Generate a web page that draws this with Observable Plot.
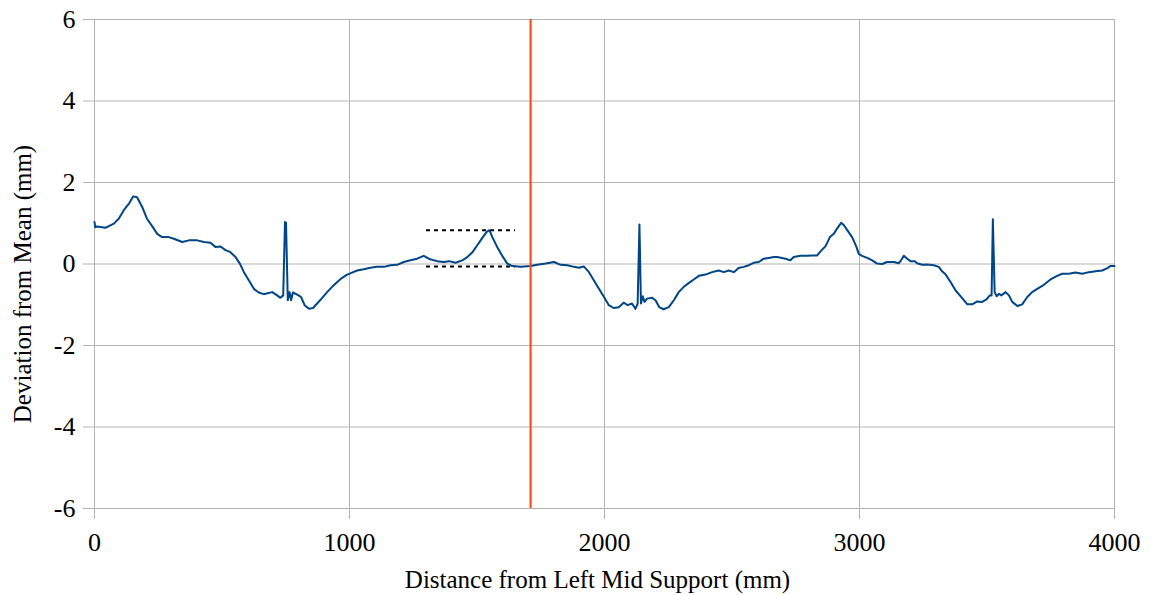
<!DOCTYPE html>
<html>
<head>
<meta charset="utf-8">
<script src="https://cdn.jsdelivr.net/npm/d3@7"></script>
<script src="https://cdn.jsdelivr.net/npm/@observablehq/plot@0.6"></script>
<style>
  body { margin: 0; background: #fff; }
  #chart svg text { font-family: 'Liberation Serif', 'DejaVu Serif', serif !important; }
</style>
</head>
<body>
<div id="chart"></div>
<script>
// Measured profile along the beam: distance (mm) and deviation from mean (mm)
const distance = [
  0, 3, 10, 43, 56, 76, 95, 115, 135, 152, 167, 187, 206, 226, 246, 265, 291, 311, 344, 370,
  403, 429, 455, 474, 494, 514, 533, 553, 570, 586, 605, 625, 644, 664, 671, 697, 716, 729, 740, 747,
  751, 758, 765, 771, 778, 795, 810, 824, 841, 857, 873, 893, 912, 932, 952, 971, 991, 1010, 1030, 1056,
  1082, 1108, 1135, 1161, 1187, 1213, 1239, 1265, 1291, 1311, 1331, 1344, 1370, 1390, 1416, 1442, 1462, 1481, 1501, 1521,
  1538, 1549, 1560, 1579, 1599, 1619, 1638, 1671, 1710, 1736, 1769, 1802, 1828, 1854, 1880, 1900, 1919, 1939, 1958, 1978,
  1998, 2017, 2036, 2056, 2075, 2091, 2108, 2121, 2130, 2137, 2143, 2150, 2157, 2167, 2187, 2200, 2215, 2232, 2252, 2272,
  2291, 2311, 2330, 2350, 2370, 2396, 2422, 2448, 2468, 2487, 2507, 2526, 2546, 2566, 2585, 2605, 2624, 2644, 2664, 2677,
  2710, 2729, 2742, 2769, 2795, 2814, 2834, 2847, 2867, 2884, 2899, 2912, 2928, 2939, 2952, 2971, 2988, 2997, 3010, 3030,
  3050, 3069, 3089, 3108, 3135, 3154, 3163, 3174, 3187, 3200, 3216, 3226, 3246, 3265, 3291, 3311, 3324, 3338, 3357, 3377,
  3396, 3423, 3442, 3462, 3481, 3498, 3511, 3518, 3523, 3530, 3538, 3547, 3556, 3573, 3586, 3599, 3619, 3638, 3658, 3677,
  3697, 3723, 3749, 3775, 3795, 3821, 3847, 3873, 3900, 3926, 3952, 3972, 3984, 4000
];
const deviation = [
  1.03, 0.90, 0.92, 0.89, 0.93, 0.99, 1.11, 1.32, 1.48, 1.66, 1.64, 1.40, 1.11, 0.93, 0.74, 0.66, 0.66, 0.62, 0.54, 0.58,
  0.58, 0.54, 0.52, 0.42, 0.43, 0.34, 0.29, 0.17, 0.01, -0.20, -0.40, -0.61, -0.70, -0.74, -0.73, -0.69, -0.77, -0.83, -0.77, 1.03,
  1.01, -0.89, -0.69, -0.89, -0.70, -0.75, -0.81, -1.01, -1.10, -1.08, -0.97, -0.83, -0.69, -0.56, -0.44, -0.34, -0.26, -0.21, -0.16, -0.13,
  -0.09, -0.07, -0.07, -0.03, -0.02, 0.05, 0.09, 0.13, 0.20, 0.13, 0.09, 0.07, 0.05, 0.07, 0.03, 0.09, 0.17, 0.28, 0.46, 0.64,
  0.79, 0.83, 0.66, 0.42, 0.20, 0.01, -0.05, -0.07, -0.05, -0.02, 0.01, 0.05, -0.02, -0.03, -0.07, -0.09, -0.06, -0.20, -0.40, -0.61,
  -0.81, -1.01, -1.08, -1.06, -0.95, -1.01, -0.97, -1.10, -0.97, 0.97, -0.97, -0.79, -0.93, -0.85, -0.83, -0.89, -1.06, -1.11, -1.06, -0.89,
  -0.69, -0.56, -0.47, -0.38, -0.29, -0.26, -0.20, -0.16, -0.20, -0.16, -0.20, -0.10, -0.07, -0.03, 0.03, 0.05, 0.13, 0.15, 0.17, 0.17,
  0.13, 0.09, 0.17, 0.20, 0.20, 0.21, 0.21, 0.31, 0.44, 0.66, 0.74, 0.87, 1.01, 0.95, 0.83, 0.66, 0.42, 0.25, 0.20, 0.15,
  0.09, 0.01, 0.00, 0.05, 0.05, 0.02, 0.09, 0.20, 0.13, 0.07, 0.07, 0.02, -0.02, -0.01, -0.03, -0.07, -0.18, -0.26, -0.44, -0.65,
  -0.79, -0.99, -0.99, -0.92, -0.93, -0.87, -0.77, -0.77, 1.10, -0.69, -0.79, -0.73, -0.77, -0.69, -0.77, -0.93, -1.03, -0.99, -0.81, -0.69,
  -0.61, -0.51, -0.38, -0.29, -0.24, -0.24, -0.21, -0.24, -0.20, -0.18, -0.16, -0.10, -0.05, -0.05
];

// Axis ticks
const xTicks = [0, 1000, 2000, 3000, 4000];
const yTicks = [-6, -4, -2, 0, 2, 4, 6];

// Reference bump: peak and base levels, drawn across its span
const bumpLevels = [0.83, -0.06];
const bumpSpan = [1302, 1651];

// Mid-span marker position (mm)
const markerDistance = [1710];

const xTitle = "Distance from Left Mid Support (mm)";
const yTitle = "Deviation from Mean (mm)";

const profile = distance.map((d, i) => ({distance: d, deviation: deviation[i]}));
const bumps = bumpLevels.map(level => ({level, x1: bumpSpan[0], x2: bumpSpan[1]}));

const gridColor = "#b3b3b3";
const serif = "'Liberation Serif', 'DejaVu Serif', serif";

const chart = Plot.plot({
  width: 1151,
  height: 595,
  marginLeft: 94,
  marginRight: 37,
  marginTop: 19,
  marginBottom: 87,
  style: {fontFamily: serif, background: "#fff", color: "#000"},
  x: {domain: [0, 4000]},
  y: {domain: [-6, 6]},
  marks: [
    Plot.gridX(xTicks, {stroke: gridColor, strokeOpacity: 1, strokeWidth: 1}),
    Plot.gridY(yTicks, {stroke: gridColor, strokeOpacity: 1, strokeWidth: 1}),
    Plot.axisX(xTicks, {
      tickSize: 11, tickPadding: 13, stroke: gridColor, strokeOpacity: 1,
      fontSize: 26, fill: "#000", label: null, tickFormat: d => String(d)
    }),
    Plot.axisY(yTicks, {
      tickSize: 11, tickPadding: 8, stroke: gridColor, strokeOpacity: 1,
      fontSize: 26, fill: "#000", label: null, tickFormat: d => String(d)
    }),
    Plot.ruleY(bumps, {
      y: "level", x1: "x1", x2: "x2",
      stroke: "#000", strokeWidth: 2, strokeDasharray: "4,4"
    }),
    Plot.line(profile, {
      x: "distance", y: "deviation",
      stroke: "#004586", strokeWidth: 2, strokeLinejoin: "round"
    }),
    Plot.ruleX(markerDistance, {stroke: "#ff420e", strokeWidth: 2}),
    Plot.text([xTitle], {
      text: d => d, frameAnchor: "bottom", lineAnchor: "bottom",
      dy: 79, dx: -7, fontSize: 25, fill: "#000"
    }),
    Plot.text([yTitle], {
      text: d => d, frameAnchor: "left", textAnchor: "middle", rotate: -90,
      dx: -72, dy: 20, fontSize: 25, fill: "#000"
    })
  ]
});

document.getElementById("chart").appendChild(chart);
</script>
</body>
</html>
